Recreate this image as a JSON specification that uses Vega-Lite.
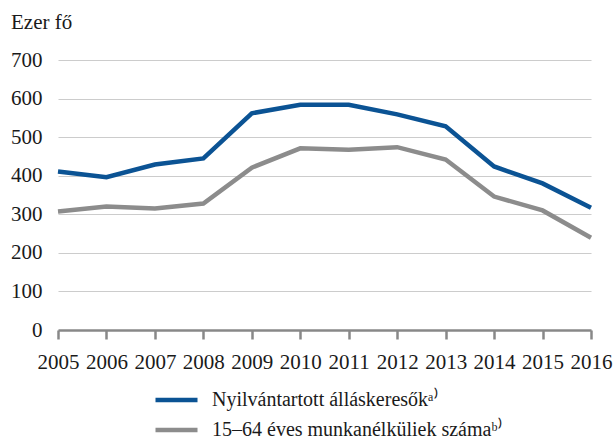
{
  "$schema": "https://vega.github.io/schema/vega-lite/v6.json",
  "width": 533,
  "height": 270,
  "autosize": {"type": "none"},
  "padding": {"left": 58, "top": 60, "right": 23, "bottom": 111},
  "background": "white",
  "config": {
    "view": {"stroke": null},
    "font": "Liberation Serif",
    "axis": {"labelFont": "Liberation Serif", "labelColor": "#1a1a1a", "labelFontSize": 21},
    "legend": {"labelFont": "Liberation Serif"},
    "title": {"font": "Liberation Serif"}
  },
  "title": {
    "text": "Ezer fő",
    "anchor": "start",
    "frame": "group",
    "font": "Liberation Serif",
    "fontSize": 21,
    "fontWeight": "normal",
    "color": "#1a1a1a",
    "dx": -47,
    "offset": 16
  },
  "data": {
    "values": [
      {"ev": "2005", "sor": "Nyilvántartott álláskeresőkᵃ⁾", "ertek": 411},
      {"ev": "2006", "sor": "Nyilvántartott álláskeresőkᵃ⁾", "ertek": 396},
      {"ev": "2007", "sor": "Nyilvántartott álláskeresőkᵃ⁾", "ertek": 429},
      {"ev": "2008", "sor": "Nyilvántartott álláskeresőkᵃ⁾", "ertek": 445},
      {"ev": "2009", "sor": "Nyilvántartott álláskeresőkᵃ⁾", "ertek": 562},
      {"ev": "2010", "sor": "Nyilvántartott álláskeresőkᵃ⁾", "ertek": 584},
      {"ev": "2011", "sor": "Nyilvántartott álláskeresőkᵃ⁾", "ertek": 584},
      {"ev": "2012", "sor": "Nyilvántartott álláskeresőkᵃ⁾", "ertek": 559},
      {"ev": "2013", "sor": "Nyilvántartott álláskeresőkᵃ⁾", "ertek": 528},
      {"ev": "2014", "sor": "Nyilvántartott álláskeresőkᵃ⁾", "ertek": 424},
      {"ev": "2015", "sor": "Nyilvántartott álláskeresőkᵃ⁾", "ertek": 380},
      {"ev": "2016", "sor": "Nyilvántartott álláskeresőkᵃ⁾", "ertek": 317},
      {"ev": "2005", "sor": "15–64 éves munkanélküliek számaᵇ⁾", "ertek": 307},
      {"ev": "2006", "sor": "15–64 éves munkanélküliek számaᵇ⁾", "ertek": 320},
      {"ev": "2007", "sor": "15–64 éves munkanélküliek számaᵇ⁾", "ertek": 315},
      {"ev": "2008", "sor": "15–64 éves munkanélküliek számaᵇ⁾", "ertek": 328},
      {"ev": "2009", "sor": "15–64 éves munkanélküliek számaᵇ⁾", "ertek": 421},
      {"ev": "2010", "sor": "15–64 éves munkanélküliek számaᵇ⁾", "ertek": 471},
      {"ev": "2011", "sor": "15–64 éves munkanélküliek számaᵇ⁾", "ertek": 467},
      {"ev": "2012", "sor": "15–64 éves munkanélküliek számaᵇ⁾", "ertek": 474},
      {"ev": "2013", "sor": "15–64 éves munkanélküliek számaᵇ⁾", "ertek": 442},
      {"ev": "2014", "sor": "15–64 éves munkanélküliek számaᵇ⁾", "ertek": 346},
      {"ev": "2015", "sor": "15–64 éves munkanélküliek számaᵇ⁾", "ertek": 310},
      {"ev": "2016", "sor": "15–64 éves munkanélküliek számaᵇ⁾", "ertek": 239}
    ]
  },
  "mark": {"type": "line", "strokeWidth": 4.5, "strokeJoin": "miter"},
  "encoding": {
    "x": {
      "field": "ev",
      "type": "ordinal",
      "scale": {"type": "point", "padding": 0},
      "axis": {
        "title": null,
        "labelAngle": 0,
        "domainColor": "#888888",
        "domainWidth": 2.5,
        "tickColor": "#888888",
        "tickWidth": 2.5,
        "tickSize": 9,
        "labelPadding": 12,
        "grid": false
      }
    },
    "y": {
      "field": "ertek",
      "type": "quantitative",
      "scale": {"domain": [0, 700], "nice": false},
      "axis": {
        "title": null,
        "values": [0, 100, 200, 300, 400, 500, 600, 700],
        "domain": false,
        "ticks": false,
        "labelPadding": 16,
        "gridColor": "#cccccc",
        "gridWidth": 1.2
      }
    },
    "color": {
      "field": "sor",
      "type": "nominal",
      "sort": ["Nyilvántartott álláskeresőkᵃ⁾", "15–64 éves munkanélküliek számaᵇ⁾"],
      "scale": {"range": ["#0b5394", "#8c8c8c"]},
      "legend": {
        "title": null,
        "orient": "none",
        "legendX": 105.5,
        "legendY": 327,
        "direction": "vertical",
        "symbolType": "M-2,0H2",
        "symbolSize": 441,
        "symbolStrokeWidth": 4.5,
        "symbolFillColor": "transparent",
        "labelFont": "Liberation Serif",
        "labelFontSize": 20,
        "labelColor": "#1a1a1a",
        "labelOffset": 22.5,
        "labelLimit": 400,
        "rowPadding": 7
      }
    }
  }
}
